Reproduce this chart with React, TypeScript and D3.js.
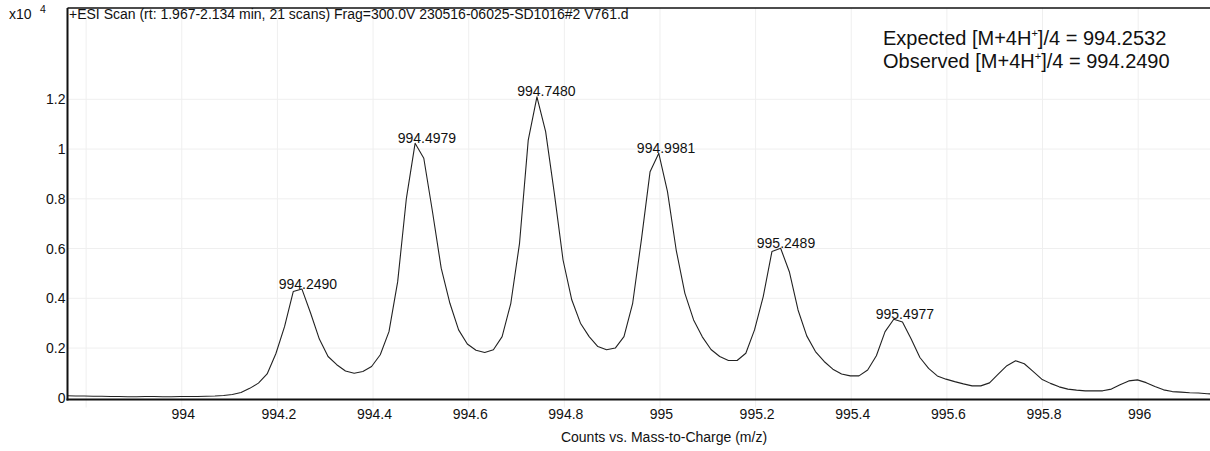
import React from "react";
import * as d3 from "d3";

const mzValues: number[] = [
  993.7599, 993.7781, 993.7963, 993.8145, 993.8327, 993.8509, 993.8691, 993.8873, 993.9055, 993.9237,
  993.9419, 993.9601, 993.9783, 993.9965, 994.0147, 994.0329, 994.0511, 994.0693, 994.0875, 994.1057,
  994.1239, 994.1421, 994.1603, 994.1785, 994.1967, 994.2149, 994.2331, 994.2513, 994.2695, 994.2877,
  994.3059, 994.3241, 994.3423, 994.3605, 994.3787, 994.3969, 994.4151, 994.4333, 994.4515, 994.4697,
  994.4879, 994.5061, 994.5243, 994.5425, 994.5607, 994.5789, 994.5971, 994.6153, 994.6335, 994.6517,
  994.6699, 994.6881, 994.7063, 994.7245, 994.7427, 994.7609, 994.7791, 994.7973, 994.8155, 994.8337,
  994.8519, 994.8701, 994.8883, 994.9065, 994.9247, 994.9429, 994.9611, 994.9793, 994.9975, 995.0157,
  995.0339, 995.0521, 995.0703, 995.0885, 995.1067, 995.1249, 995.1431, 995.1613, 995.1795, 995.1977,
  995.2159, 995.2341, 995.2523, 995.2705, 995.2887, 995.3069, 995.3251, 995.3433, 995.3615, 995.3797,
  995.3979, 995.4161, 995.4343, 995.4525, 995.4707, 995.4889, 995.5071, 995.5253, 995.5435, 995.5617,
  995.5799, 995.5981, 995.6163, 995.6345, 995.6527, 995.6709, 995.6891, 995.7073, 995.7255, 995.7437,
  995.7619, 995.7801, 995.7983, 995.8165, 995.8347, 995.8529, 995.8711, 995.8893, 995.9075, 995.9257,
  995.9439, 995.9621, 995.9803, 995.9985, 996.0167, 996.0349, 996.0531, 996.0713, 996.0895, 996.1077,
  996.1259, 996.1441, 996.1623,
];

// counts (x10^4)
const countValues: number[] = [
  0.008, 0.0075, 0.007, 0.0065, 0.006, 0.0055, 0.005, 0.0045, 0.0045, 0.005,
  0.005, 0.0045, 0.0045, 0.005, 0.005, 0.0055, 0.006, 0.007, 0.009, 0.013,
  0.021, 0.038, 0.059, 0.096, 0.177, 0.286, 0.427, 0.437, 0.34, 0.236,
  0.166, 0.133, 0.108, 0.099, 0.106, 0.126, 0.173, 0.266, 0.467, 0.802,
  1.023, 0.963, 0.748, 0.521, 0.38, 0.273, 0.216, 0.191, 0.182, 0.193,
  0.246, 0.38, 0.621, 1.036, 1.21, 1.07, 0.822, 0.554, 0.394, 0.3,
  0.246, 0.206, 0.193, 0.2, 0.246, 0.38, 0.635, 0.909, 0.983, 0.829,
  0.594, 0.42, 0.313, 0.245, 0.194, 0.166, 0.15, 0.15, 0.179, 0.273,
  0.407, 0.588, 0.601, 0.507, 0.353, 0.249, 0.186, 0.146, 0.115, 0.096,
  0.088, 0.088, 0.112, 0.169, 0.266, 0.316, 0.305, 0.236, 0.162, 0.118,
  0.088, 0.075, 0.065, 0.056, 0.048, 0.048, 0.06, 0.095, 0.129, 0.149,
  0.137, 0.106, 0.075, 0.058, 0.044, 0.035, 0.031, 0.028, 0.028, 0.028,
  0.035, 0.052, 0.068, 0.072, 0.061, 0.045, 0.032, 0.025, 0.023, 0.02,
  0.019, 0.016, 0.015,
];

const peakLabels: string[] = ["994.2490", "994.4979", "994.7480", "994.9981", "995.2489", "995.4977"];

const xTickValues: number[] = [993.8, 994, 994.2, 994.4, 994.6, 994.8, 995, 995.2, 995.4, 995.6, 995.8, 996];
const xTickLabels: string[] = ["", "994", "994.2", "994.4", "994.6", "994.8", "995", "995.2", "995.4", "995.6", "995.8", "996"];
const yTickValues: number[] = [0, 0.2, 0.4, 0.6, 0.8, 1, 1.2];
const yTickLabels: string[] = ["0", "0.2", "0.4", "0.6", "0.8", "1", "1.2"];

const titleText = "+ESI Scan (rt: 1.967-2.134 min, 21 scans) Frag=300.0V 230516-06025-SD1016#2 V761.d";
const xAxisTitle = "Counts vs. Mass-to-Charge (m/z)";
const expectedLabel = ["Expected [M+4H", "+", "]/4 = 994.2532"];
const observedLabel = ["Observed [M+4H", "+", "]/4 = 994.2490"];

const W = 1210;
const H = 451;
const FONT = "'Liberation Sans', Arial, Helvetica, sans-serif";
const FS = 14;

export default function App() {
  const left = 67.5;
  const top = 8;
  const bottom = 399.5;
  const x = d3.scaleLinear().domain([993.76, 996.16]).range([67, 1214.7]);
  const y = d3.scaleLinear().domain([0, 1.2]).range([397.8, 99.3]);

  const pts = mzValues.map((m, i) => [m, countValues[i]] as [number, number]);
  const line = d3
    .line<[number, number]>()
    .x((d) => x(d[0]))
    .y((d) => y(d[1]));

  const labels = peakLabels.map((s) => {
    const m = +s;
    const near = pts.filter((p) => Math.abs(p[0] - m) < 0.02);
    const apex = d3.max(near, (p) => p[1]) ?? 0;
    return { s, x: x(m) + 7, y: y(apex) - 0.5 };
  });

  return (
    <svg
      width={W}
      height={H}
      style={{ position: "absolute", left: 0, top: 0, background: "#fff" }}
      fontFamily={FONT}
    >
      <defs>
        <clipPath id="plotClip">
          <rect x={left} y={top} width={W - left} height={bottom - top} />
        </clipPath>
      </defs>
      <rect x={0} y={0} width={W} height={H} fill="#fff" />

      {/* grid */}
      {xTickValues.map((v, i) => (
        <line key={"gx" + i} x1={x(v)} x2={x(v)} y1={top} y2={bottom + 8} stroke="#efefef" strokeWidth={1} />
      ))}
      {yTickValues.slice(1).map((v, i) => (
        <line key={"gy" + i} x1={left} x2={W} y1={y(v)} y2={y(v)} stroke="#efefef" strokeWidth={1} />
      ))}

      {/* spectrum */}
      <path d={line(pts) ?? ""} fill="none" stroke="#222" strokeWidth={1.1} clipPath="url(#plotClip)" strokeLinejoin="round" />

      {/* frame */}
      <line x1={left} x2={W} y1={top} y2={top} stroke="#111" strokeWidth={1.6} />
      <line x1={left} x2={left} y1={top} y2={bottom + 1} stroke="#111" strokeWidth={2} />
      <line x1={left - 1} x2={W} y1={bottom} y2={bottom} stroke="#111" strokeWidth={2} />

      {/* x tick labels */}
      {xTickValues.map((v, i) => (
        <text key={"xt" + i} x={x(v) + 1.5} y={419} fontSize={FS} textAnchor="middle" fill="#111">
          {xTickLabels[i]}
        </text>
      ))}
      {/* y tick labels */}
      {yTickValues.map((v, i) => (
        <text key={"yt" + i} x={65.5} y={y(v) + 5} fontSize={FS} textAnchor="end" fill="#111">
          {yTickLabels[i]}
        </text>
      ))}

      <text x={9} y={19} fontSize={FS} fill="#111">x10</text>
      <text x={40} y={13} fontSize={10.5} fill="#111">4</text>

      <text x={69} y={19} fontSize={FS} fill="#111">{titleText}</text>

      <text x={664} y={442} fontSize={FS} textAnchor="middle" fill="#111">{xAxisTitle}</text>

      {/* peak labels */}
      {labels.map((l, i) => (
        <text key={"pl" + i} x={l.x} y={l.y} fontSize={FS} textAnchor="middle" fill="#111">
          {l.s}
        </text>
      ))}

      {/* expected / observed */}
      <text x={883} y={45} fontSize={20} fill="#111">
        {expectedLabel[0]}
        <tspan fontSize={11} dy={-8}>{expectedLabel[1]}</tspan>
        <tspan dy={8}>{expectedLabel[2]}</tspan>
      </text>
      <text x={883} y={68} fontSize={20} fill="#111">
        {observedLabel[0]}
        <tspan fontSize={11} dy={-8}>{observedLabel[1]}</tspan>
        <tspan dy={8}>{observedLabel[2]}</tspan>
      </text>
    </svg>
  );
}
